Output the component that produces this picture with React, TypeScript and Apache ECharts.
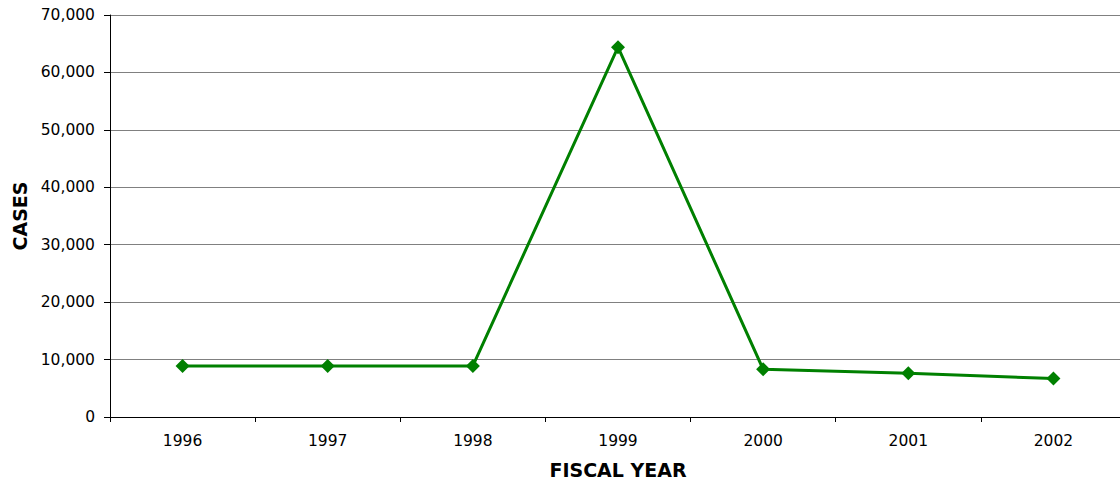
import React, { useEffect, useRef } from "react";
import * as echarts from "echarts";

const years = ["1996", "1997", "1998", "1999", "2000", "2001", "2002"];
const cases = [8900, 8900, 8900, 64400, 8300, 7600, 6700];
const yTicks = { min: 0, max: 70000, interval: 10000 };

const FONT = "'DejaVu Sans', Verdana, sans-serif";

export default function App() {
  const ref = useRef<HTMLDivElement>(null);
  useEffect(() => {
    if (!ref.current) return;
    const chart = echarts.init(ref.current, null, { renderer: "svg" });
    chart.setOption({
      animation: false,
      backgroundColor: "#ffffff",
      grid: { left: 110, right: -6, top: 15, bottom: 66, containLabel: false, outerBoundsMode: "none" },
      xAxis: {
        type: "category",
        data: years,
        boundaryGap: true,
        name: "FISCAL YEAR",
        nameLocation: "middle",
        nameGap: 43,
        nameTextStyle: { fontFamily: FONT, fontSize: 19, fontWeight: "bold", color: "#000" },
        axisLine: { lineStyle: { color: "#000", width: 1 } },
        axisTick: { show: true, alignWithLabel: false, length: 5, lineStyle: { color: "#000" } },
        axisLabel: { fontFamily: FONT, fontSize: 15.5, color: "#000", margin: 16 },
        splitLine: { show: false },
      },
      yAxis: {
        type: "value",
        min: yTicks.min,
        max: yTicks.max,
        interval: yTicks.interval,
        name: "CASES",
        nameLocation: "middle",
        nameGap: 81,
        nameRotate: 90,
        nameTextStyle: { fontFamily: FONT, fontSize: 19, fontWeight: "bold", color: "#000" },
        axisLine: { show: true, lineStyle: { color: "#000", width: 1 } },
        axisTick: { show: true, length: 6, lineStyle: { color: "#000" } },
        axisLabel: {
          fontFamily: FONT,
          fontSize: 15.5,
          color: "#000",
          margin: 15,
          formatter: (v: number) => v.toLocaleString("en-US"),
        },
        splitLine: { show: true, lineStyle: { color: "#808080", width: 1 } },
      },
      series: [
        {
          type: "line",
          data: cases,
          symbol: "diamond",
          symbolSize: 14,
          lineStyle: { color: "#008000", width: 3 },
          itemStyle: { color: "#008000" },
        },
      ],
    });
    return () => chart.dispose();
  }, []);
  return (
    <div
      ref={ref}
      style={{ position: "absolute", left: 0, top: 0, width: 1120, height: 483 }}
    />
  );
}
